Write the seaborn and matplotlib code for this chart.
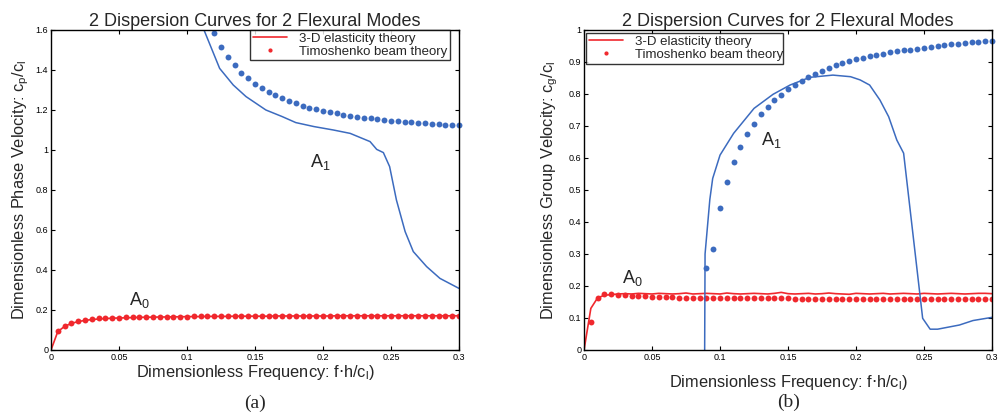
import numpy as np
import pandas as pd
import matplotlib
matplotlib.use("Agg")
import matplotlib.pyplot as plt
from matplotlib.lines import Line2D
import seaborn as sns

# frequency grid of the computed points (f*h/c_l)
freq = [0.005, 0.01, 0.015, 0.02, 0.025, 0.03, 0.035, 0.04, 0.045, 0.05,
        0.055, 0.06, 0.065, 0.07, 0.075, 0.08, 0.085, 0.09, 0.095, 0.1,
        0.105, 0.11, 0.115, 0.12, 0.125, 0.13, 0.135, 0.14, 0.145, 0.15,
        0.155, 0.16, 0.165, 0.17, 0.175, 0.18, 0.185, 0.19, 0.195, 0.2,
        0.205, 0.21, 0.215, 0.22, 0.225, 0.23, 0.235, 0.24, 0.245, 0.25,
        0.255, 0.26, 0.265, 0.27, 0.275, 0.28, 0.285, 0.29, 0.295, 0.3]

# ---- (a) phase velocity ----
# A0, 3-D elasticity (line, starts at origin)
a0_phase_3d = [0.092, 0.118, 0.133, 0.142, 0.148, 0.152, 0.155, 0.157, 0.159, 0.160,
               0.161, 0.162, 0.163, 0.164, 0.164, 0.165, 0.165, 0.166, 0.166, 0.167,
               0.167, 0.167, 0.168, 0.168, 0.168, 0.168, 0.169, 0.169, 0.169, 0.169,
               0.169, 0.169, 0.170, 0.170, 0.170, 0.170, 0.170, 0.170, 0.170, 0.170,
               0.170, 0.171, 0.171, 0.171, 0.171, 0.171, 0.171, 0.171, 0.171, 0.171,
               0.171, 0.171, 0.171, 0.171, 0.171, 0.171, 0.171, 0.171, 0.171, 0.171]
# A0, Timoshenko (dots)
a0_phase_tim = [0.096, 0.121, 0.136, 0.145, 0.151, 0.155, 0.158, 0.160, 0.161, 0.162,
                0.163, 0.164, 0.164, 0.165, 0.165, 0.166, 0.166, 0.167, 0.167, 0.167,
                0.168, 0.168, 0.168, 0.168, 0.169, 0.169, 0.169, 0.169, 0.169, 0.170,
                0.170, 0.170, 0.170, 0.170, 0.170, 0.170, 0.171, 0.171, 0.171, 0.171,
                0.171, 0.171, 0.171, 0.171, 0.171, 0.171, 0.171, 0.172, 0.172, 0.172,
                0.172, 0.172, 0.172, 0.172, 0.172, 0.172, 0.172, 0.172, 0.172, 0.172]
# A1, 3-D elasticity
a1_phase_3d_f = [0.1125, 0.124, 0.134, 0.1434, 0.158, 0.17, 0.18, 0.1934, 0.2076, 0.22,
                 0.2346, 0.2395, 0.2444, 0.249, 0.254, 0.2604, 0.2664, 0.2762, 0.286, 0.3]
a1_phase_3d = [1.60, 1.408, 1.325, 1.267, 1.20, 1.167, 1.137, 1.117, 1.10, 1.083,
               1.042, 1.003, 0.987, 0.917, 0.75, 0.592, 0.492, 0.417, 0.358, 0.308]
# A1, Timoshenko (dots from f = 0.12)
a1_phase_tim = [1.585, 1.517, 1.467, 1.423, 1.387, 1.358, 1.330, 1.311, 1.290, 1.275,
                1.258, 1.246, 1.233, 1.222, 1.211, 1.203, 1.196, 1.189, 1.183, 1.177,
                1.172, 1.167, 1.162, 1.158, 1.154, 1.150, 1.147, 1.144, 1.141, 1.138,
                1.136, 1.133, 1.131, 1.129, 1.127, 1.125, 1.123]

# ---- (b) group velocity ----
a0_group_3d = [0.130, 0.163, 0.171, 0.173, 0.175, 0.176, 0.175, 0.177, 0.176, 0.175,
               0.177, 0.176, 0.175, 0.176, 0.178, 0.175, 0.176, 0.177, 0.176, 0.175,
               0.178, 0.176, 0.175, 0.176, 0.177, 0.176, 0.175, 0.177, 0.180, 0.176,
               0.175, 0.176, 0.177, 0.175, 0.176, 0.178, 0.176, 0.175, 0.174, 0.177,
               0.176, 0.175, 0.176, 0.177, 0.175, 0.176, 0.177, 0.176, 0.175, 0.177,
               0.176, 0.175, 0.176, 0.177, 0.176, 0.175, 0.176, 0.177, 0.177, 0.176]
a0_group_tim = [0.089, 0.161, 0.174, 0.176, 0.173, 0.171, 0.170, 0.169, 0.168, 0.167,
                0.166, 0.165, 0.165, 0.164, 0.164, 0.163, 0.163, 0.163, 0.163, 0.162,
                0.162, 0.162, 0.162, 0.161, 0.161, 0.161, 0.161, 0.161, 0.161, 0.161,
                0.160, 0.160, 0.160, 0.160, 0.160, 0.160, 0.160, 0.160, 0.160, 0.160,
                0.160, 0.160, 0.159, 0.159, 0.159, 0.159, 0.159, 0.159, 0.159, 0.159,
                0.159, 0.159, 0.159, 0.159, 0.159, 0.159, 0.159, 0.159, 0.159, 0.159]
a1_group_3d_f = [0.0887, 0.089, 0.0925, 0.0946, 0.1, 0.11, 0.125, 0.139, 0.1515, 0.166,
                 0.183, 0.196, 0.203, 0.21, 0.2176, 0.224, 0.23, 0.235, 0.249, 0.2545,
                 0.26, 0.276, 0.286, 0.3]
a1_group_3d = [0.0, 0.30, 0.47, 0.536, 0.609, 0.677, 0.755, 0.799, 0.828, 0.852,
               0.859, 0.854, 0.844, 0.828, 0.781, 0.729, 0.656, 0.615, 0.099, 0.065,
               0.065, 0.078, 0.092, 0.102]
# A1, Timoshenko (dots from f = 0.09)
a1_group_tim = [0.255, 0.315, 0.445, 0.526, 0.586, 0.635, 0.675, 0.706, 0.736, 0.758,
                0.781, 0.797, 0.815, 0.827, 0.841, 0.852, 0.862, 0.873, 0.882, 0.890,
                0.898, 0.904, 0.909, 0.914, 0.918, 0.922, 0.926, 0.930, 0.933, 0.936,
                0.939, 0.942, 0.945, 0.948, 0.950, 0.953, 0.955, 0.957, 0.959, 0.961,
                0.963, 0.965, 0.967]

red = "#f0282d"
blue = "#3c6bbf"

sns.set_style("ticks")
plt.rcParams["font.family"] = ["Liberation Sans", "DejaVu Sans"]

fig = plt.figure(figsize=(9.98, 4.2), dpi=100)
ax1 = fig.add_axes([0.0511, 0.1667, 0.4088, 0.7619])
ax2 = fig.add_axes([0.5852, 0.1667, 0.4088, 0.7619])


def draw(ax, a0_3d, a0_tim, a1_f, a1_3d, a1_tim):
    df = pd.DataFrame({"f": [0.0] + freq, "v": [0.0] + a0_3d})
    sns.lineplot(data=df, x="f", y="v", ax=ax, color=red, lw=1.2, sort=False)
    df = pd.DataFrame({"f": freq, "v": a0_tim})
    sns.scatterplot(data=df, x="f", y="v", ax=ax, color=red, s=18, linewidth=0)
    df = pd.DataFrame({"f": a1_f, "v": a1_3d})
    sns.lineplot(data=df, x="f", y="v", ax=ax, color=blue, lw=1.1, sort=False)
    df = pd.DataFrame({"f": freq[-len(a1_tim):], "v": a1_tim})
    sns.scatterplot(data=df, x="f", y="v", ax=ax, color=blue, s=18, linewidth=0,
                    clip_on=False)
    ax.set_xlim(0, 0.3)
    ax.set_xticks([0, 0.05, 0.1, 0.15, 0.2, 0.25, 0.3])
    ax.set_xticklabels(["0", "0.05", "0.1", "0.15", "0.2", "0.25", "0.3"])
    ax.tick_params(direction="in", top=True, right=True, labelsize=6.5,
                   length=3, width=0.8, pad=2, colors="black")
    for s in ax.spines.values():
        s.set_linewidth(1.0)
        s.set_color("black")
    ax.set_xlabel(r"Dimensionless Frequency: f$\cdot$h/c$_\mathregular{l}$)",
                  fontsize=11.8, labelpad=1)
    ax.set_title("2 Dispersion Curves for 2 Flexural Modes", fontsize=13, pad=3)


draw(ax1, a0_phase_3d, a0_phase_tim, a1_phase_3d_f, a1_phase_3d, a1_phase_tim)
ax1.set_ylim(0, 1.6)
ax1.set_yticks([0, 0.2, 0.4, 0.6, 0.8, 1.0, 1.2, 1.4, 1.6])
ax1.set_yticklabels(["0", "0.2", "0.4", "0.6", "0.8", "1", "1.2", "1.4", "1.6"])
ax1.set_ylabel(r"Dimensionless Phase Velocity: c$_\mathregular{p}$/c$_\mathregular{l}$",
               fontsize=11.8, labelpad=3)
ax1.text(0.057, 0.225, r"A$_\mathregular{0}$", fontsize=13)
ax1.text(0.1904, 0.915, r"A$_\mathregular{1}$", fontsize=13)

draw(ax2, a0_group_3d, a0_group_tim, a1_group_3d_f, a1_group_3d, a1_group_tim)
ax2.set_ylim(0, 1.0)
ax2.set_yticks([0, 0.1, 0.2, 0.3, 0.4, 0.5, 0.6, 0.7, 0.8, 0.9, 1.0])
ax2.set_yticklabels(["0", "0.1", "0.2", "0.3", "0.4", "0.5", "0.6", "0.7", "0.8", "0.9", "1"])
ax2.set_ylabel(r"Dimensionless Group Velocity: c$_\mathregular{g}$/c$_\mathregular{l}$",
               fontsize=11.8, labelpad=6)
ax2.xaxis.labelpad = 8
ax2.text(0.0277, 0.208, r"A$_\mathregular{0}$", fontsize=13)
ax2.text(0.130, 0.64, r"A$_\mathregular{1}$", fontsize=13)

handles = [Line2D([], [], color=red, lw=1.2),
           Line2D([], [], color=red, marker=".", ls="none", markersize=4)]
labels = ["3-D elasticity theory", "Timoshenko beam theory"]
for ax, anchor in [(ax1, (0.488, 0.898, 0.49, 0.102)), (ax2, (0.005, 0.884, 0.482, 0.106))]:
    leg = ax.legend(handles, labels, bbox_to_anchor=anchor, loc="upper left",
                    mode="expand", fontsize=9.5, frameon=True, fancybox=False,
                    borderaxespad=0, handlelength=2.6, handletextpad=0.9,
                    borderpad=0.2, labelspacing=0.05)
    leg.get_frame().set_edgecolor("black")
    leg.get_frame().set_linewidth(1.0)

fig.text(0.2555, 0.028, "(a)", family="Liberation Serif", fontsize=14, ha="center")
fig.text(0.7905, 0.03, "(b)", family="Liberation Serif", fontsize=14, ha="center")

fig.savefig("out.png", dpi=100)
